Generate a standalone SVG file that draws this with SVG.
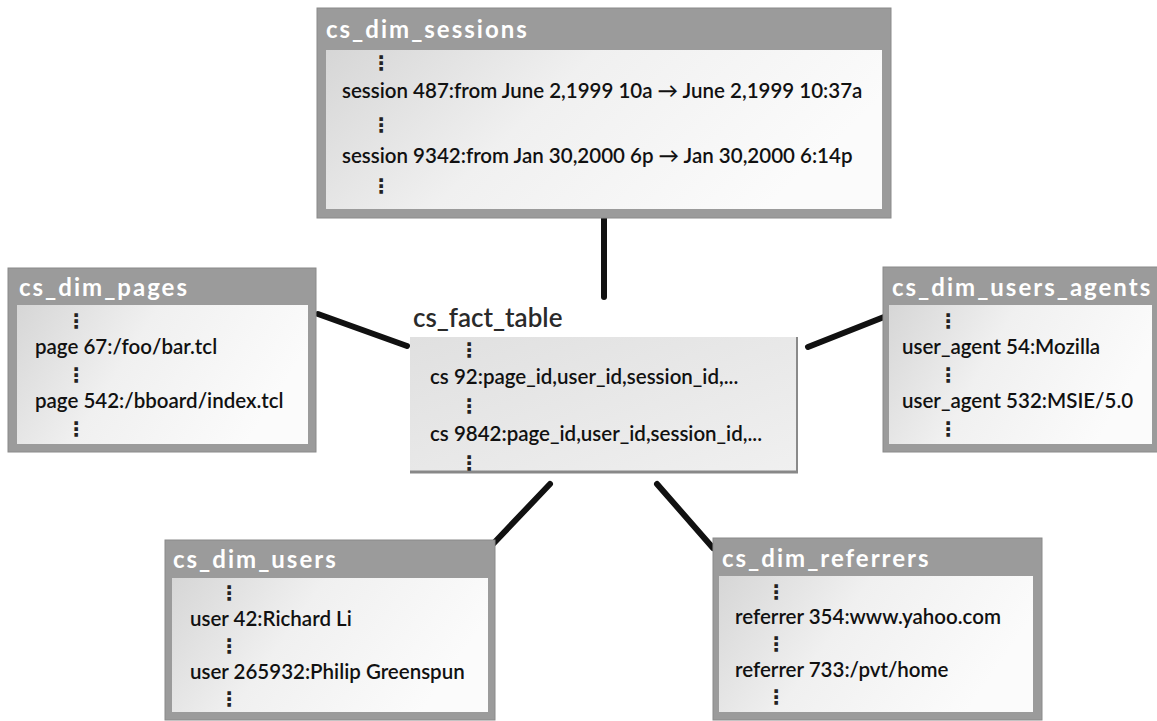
<svg xmlns="http://www.w3.org/2000/svg" width="1157" height="721" viewBox="0 0 1157 721">
<defs>
<linearGradient id="panel" x1="0" y1="0" x2="1" y2="0.3">
<stop offset="0" stop-color="#d6d6d6"/>
<stop offset="0.45" stop-color="#f0f0f0"/>
<stop offset="1" stop-color="#fbfbfb"/>
</linearGradient>
<linearGradient id="fact" x1="0" y1="0" x2="1" y2="1">
<stop offset="0" stop-color="#e0e0e0"/>
<stop offset="1" stop-color="#f0f0f0"/>
</linearGradient>
<style>
.frame{fill:#9b9b9b;stroke:#8a8a8a;stroke-width:1}
.inner{fill:url(#panel)}
.title{font-family:Lato,"Open Sans",sans-serif;font-weight:700;font-size:24px;letter-spacing:2px;fill:#ffffff}
.t{font-family:Lato,"Open Sans",sans-serif;font-size:20.5px;fill:#111111;font-weight:600}
.dots{font-family:"DejaVu Sans",sans-serif;font-size:20px;fill:#222222;font-weight:700;text-anchor:middle}
.ftitle{font-family:Lato,"Open Sans",sans-serif;font-size:26px;fill:#2a2a2a;font-weight:600}
.conn{stroke:#111111;stroke-width:6;stroke-linecap:round;fill:none}
</style>
</defs>
<rect width="1157" height="721" fill="#ffffff"/>

<g id="connectors">
<line class="conn" x1="604" y1="218" x2="604" y2="297"/>
<line class="conn" x1="318" y1="314" x2="407" y2="346"/>
<line class="conn" x1="808" y1="347" x2="884" y2="317"/>
<line class="conn" x1="550" y1="484" x2="493" y2="544"/>
<line class="conn" x1="657" y1="484" x2="713" y2="548"/>
</g>

<g id="cs_dim_sessions">
<rect class="frame" x="317" y="8" width="574" height="210"/>
<rect class="inner" x="326" y="50" width="556" height="159"/>
<text class="title" x="326" y="38">cs_dim_sessions</text>
<text class="dots" x="381" y="70">⋮</text>
<text class="t" x="342" y="98">session 487:from June 2,1999 10a → June 2,1999 10:37a</text>
<text class="dots" x="381" y="132">⋮</text>
<text class="t" x="342" y="163">session 9342:from Jan 30,2000 6p → Jan 30,2000 6:14p</text>
<text class="dots" x="381" y="193">⋮</text>
</g>

<g id="cs_fact_table">
<text class="ftitle" x="413" y="327">cs_fact_table</text>
<rect x="410" y="337" width="388" height="136" fill="url(#fact)"/>
<line x1="797" y1="337" x2="797" y2="473" stroke="#8a8a8a" stroke-width="2"/>
<line x1="410" y1="472" x2="798" y2="472" stroke="#888888" stroke-width="3"/>
<text class="dots" x="469" y="357">⋮</text>
<text class="t" x="430" y="384">cs 92:page_id,user_id,session_id,...</text>
<text class="dots" x="469" y="413">⋮</text>
<text class="t" x="430" y="441">cs 9842:page_id,user_id,session_id,...</text>
<text class="dots" x="469" y="470">⋮</text>
</g>

<g id="cs_dim_pages">
<rect class="frame" x="8" y="268" width="308" height="184"/>
<rect class="inner" x="17" y="305" width="291" height="139"/>
<text class="title" x="19" y="296">cs_dim_pages</text>
<text class="dots" x="76" y="328">⋮</text>
<text class="t" x="35" y="354">page 67:/foo/bar.tcl</text>
<text class="dots" x="76" y="382">⋮</text>
<text class="t" x="35" y="408">page 542:/bboard/index.tcl</text>
<text class="dots" x="76" y="436">⋮</text>
</g>

<g id="cs_dim_users_agents">
<rect class="frame" x="883" y="267" width="280" height="185"/>
<rect class="inner" x="889" y="305" width="263" height="139"/>
<text class="title" x="892" y="296">cs_dim_users_agents</text>
<text class="dots" x="948" y="328">⋮</text>
<text class="t" x="902" y="354">user_agent 54:Mozilla</text>
<text class="dots" x="948" y="382">⋮</text>
<text class="t" x="902" y="408">user_agent 532:MSIE/5.0</text>
<text class="dots" x="948" y="436">⋮</text>
</g>

<g id="cs_dim_users">
<rect class="frame" x="165" y="540" width="330" height="180"/>
<rect class="inner" x="172" y="578" width="316" height="134"/>
<text class="title" x="173" y="568">cs_dim_users</text>
<text class="dots" x="229" y="600">⋮</text>
<text class="t" x="190" y="626">user 42:Richard Li</text>
<text class="dots" x="229" y="653">⋮</text>
<text class="t" x="190" y="679">user 265932:Philip Greenspun</text>
<text class="dots" x="229" y="706">⋮</text>
</g>

<g id="cs_dim_referrers">
<rect class="frame" x="713" y="538" width="329" height="182"/>
<rect class="inner" x="719" y="576" width="314" height="136"/>
<text class="title" x="722" y="567">cs_dim_referrers</text>
<text class="dots" x="776" y="599">⋮</text>
<text class="t" x="735" y="624">referrer 354:www.yahoo.com</text>
<text class="dots" x="776" y="651">⋮</text>
<text class="t" x="735" y="677">referrer 733:/pvt/home</text>
<text class="dots" x="776" y="704">⋮</text>
</g>
</svg>
